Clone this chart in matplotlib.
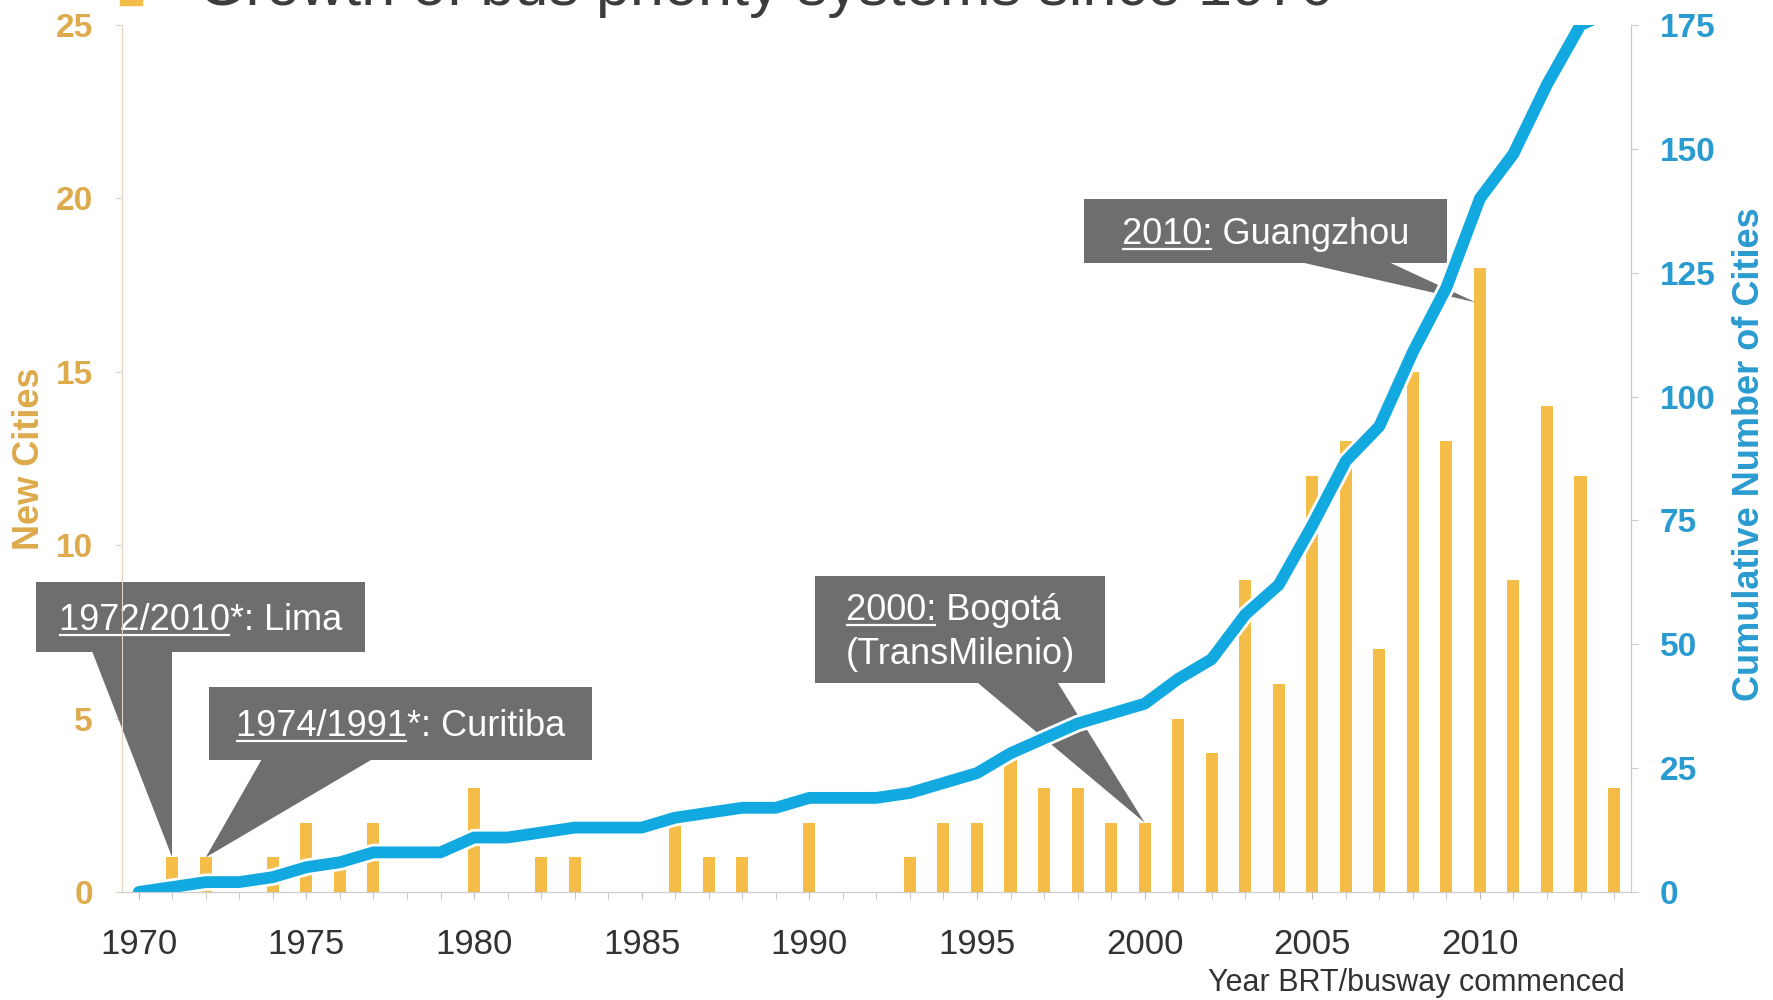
import matplotlib
matplotlib.use("Agg")
import matplotlib.pyplot as plt
import matplotlib.patheffects as pe
from matplotlib.patches import Rectangle, Polygon

plt.rcParams["font.family"] = ["Liberation Sans", "DejaVu Sans"]

years = list(range(1970, 2015))
new_cities = [0, 1, 1, 0, 1, 2, 1, 2, 0, 0,
              3, 0, 1, 1, 0, 0, 2, 1, 1, 0,
              2, 0, 0, 1, 2, 2, 4, 3, 3, 2,
              2, 5, 4, 9, 6, 12, 13, 7, 15, 13,
              18, 9, 14, 12, 3]
cumulative = [0, 1, 2, 2, 3, 5, 6, 8, 8, 8,
              11, 11, 12, 13, 13, 13, 15, 16, 17, 17,
              19, 19, 19, 20, 22, 24, 28, 31, 34, 36,
              38, 43, 47, 56, 62, 74, 87, 94, 109, 122,
              140, 149, 163, 175, 178]

# callouts: (underlined part, rest) per line, year pointed at
callouts = [
    ([("1972/2010", "*: Lima")], 1971),
    ([("1974/1991", "*: Curitiba")], 1972),
    ([("2000:", " Bogotá"), ("", "(TransMilenio)")], 2000),
    ([("2010:", " Guangzhou")], 2010),
]

BAR = "#F3BD48"
GOLD = "#DDAA4C"
BLUE = "#12A9E0"
BLUE_TXT = "#2A9BD0"
BOX = "#6E6E70"
GREY_TXT = "#333333"

fig = plt.figure(figsize=(17.73, 10), dpi=100)
ax = fig.add_axes([0.0688, 0.108, 0.851, 0.867])
ax2 = ax.twinx()

ax.bar(years, new_cities, width=0.36, color=BAR, zorder=2)
ax.set_xlim(1969.5, 2014.5)
ax.set_ylim(0, 25)
ax.set_yticks([0, 5, 10, 15, 20, 25])
ax.set_xticks(range(1970, 2015, 5))
ax.set_xticks(years, minor=True)

ax2.plot(years, cumulative, color=BLUE, lw=8.5, solid_capstyle="round",
         solid_joinstyle="round",
         path_effects=[pe.Stroke(linewidth=12.5, foreground="white"), pe.Normal()])
ax2.set_ylim(0, 175)
ax2.set_yticks([0, 25, 50, 75, 100, 125, 150, 175])

for a in (ax, ax2):
    a.spines["top"].set_visible(False)
    a.spines["left"].set_color("#E2D6C2")
    a.spines["right"].set_color("#CFC9C1")
    a.spines["bottom"].set_color("#CCCCCC")

ax.tick_params(axis="x", which="both", direction="out", length=5, color="#BBBBBB",
               labelsize=25, labelcolor=GREY_TXT, pad=21)
ax.tick_params(axis="y", length=5, color="#E2D6C2", labelsize=24, labelcolor=GOLD, pad=16)
ax2.tick_params(axis="y", length=5, color="#CFC9C1", labelsize=24, labelcolor=BLUE_TXT, pad=16)
for t in ax.get_yticklabels():
    t.set_fontweight("bold")
for t in ax2.get_yticklabels():
    t.set_fontweight("bold")

ax.set_ylabel("New Cities", color=GOLD, fontsize=26, fontweight="bold")
ax.yaxis.set_label_coords(-0.0497, 0.5)
ax2.set_ylabel("Cumulative Number of Cities", color=BLUE_TXT, fontsize=26,
               fontweight="bold", rotation=90)
ax2.yaxis.set_label_coords(1.067, 0.505)

fig.text(0.9165, 0.017, "Year BRT/busway commenced", ha="right", va="center",
         fontsize=22, color=GREY_TXT)

# title sits mostly above the canvas
fig.text(0.1117, 0.995, "Growth of bus priority systems since 1970", ha="left",
         va="baseline", fontsize=44, color="#3C3C3C")
fig.patches.append(Rectangle((120 / 1773, 0.995), 22 / 1773, 0.03, color=BAR,
                             transform=fig.transFigure))

# box extents (x0, x1, y0, y1), pointer base (xa, xb) and how far below the bar top the tip sits
box_geom = [
    ((1966.93, 1976.74, 6.92, 8.94), (1968.6, 1971.0), 0.0),
    ((1972.09, 1983.53, 3.81, 5.91), (1973.67, 1976.97), 0.0),
    ((1990.18, 1998.82, 6.03, 9.11), (1995.0, 1997.4), 0.0),
    ((1998.20, 2009.02, 18.14, 19.98), (2004.66, 2007.29), 1.0),
]

renderer = fig.canvas.get_renderer()
inv = ax.transData.inverted()
FS = 26

for (lines, yr), (bx, base, drop) in zip(callouts, box_geom):
    x0, x1, y0, y1 = bx
    tip = (yr - (0.12 if drop else 0.0), new_cities[years.index(yr)] - drop)
    ax.add_patch(Rectangle((x0, y0), x1 - x0, y1 - y0, fc=BOX, ec="none",
                           clip_on=False, zorder=5))
    ax.add_patch(Polygon([(base[0], y0 + 0.02), (base[1], y0 + 0.02), tip], fc=BOX,
                         ec="none", clip_on=False, zorder=5))

    # lay out text lines in display pixels, centred in the box
    dx0, dy0 = ax.transData.transform((x0, y0))
    dx1, dy1 = ax.transData.transform((x1, y1))
    cx = (dx0 + dx1) / 2
    cy = (dy0 + dy1) / 2
    line_h = 44
    n = len(lines)
    widths = []
    for u, r in lines:
        t = fig.text(0, 0, u + r, fontsize=FS)
        w_all = t.get_window_extent(renderer).width
        t.remove()
        if u:
            t = fig.text(0, 0, u, fontsize=FS)
            w_u = t.get_window_extent(renderer).width
            t.remove()
        else:
            w_u = 0
        widths.append((w_all, w_u))
    left = cx - max(w for w, _ in widths) / 2
    for i, ((u, r), (w_all, w_u)) in enumerate(zip(lines, widths)):
        base_y = cy + (n - 1) / 2 * line_h - i * line_h - 0.36 * FS * 100 / 72
        lx = left if n > 1 else cx - w_all / 2
        px, py = inv.transform((lx, base_y))
        ax.text(px, py, u + r, fontsize=FS, color="white", ha="left", va="baseline",
                zorder=6, clip_on=False)
        if u:
            ux0, uy = inv.transform((lx + 1, base_y - 5))
            ux1, _ = inv.transform((lx + w_u - 1, base_y - 5))
            ax.plot([ux0, ux1], [uy, uy], color="white", lw=1.6, zorder=6, clip_on=False)

fig.savefig("out.png", dpi=100)
